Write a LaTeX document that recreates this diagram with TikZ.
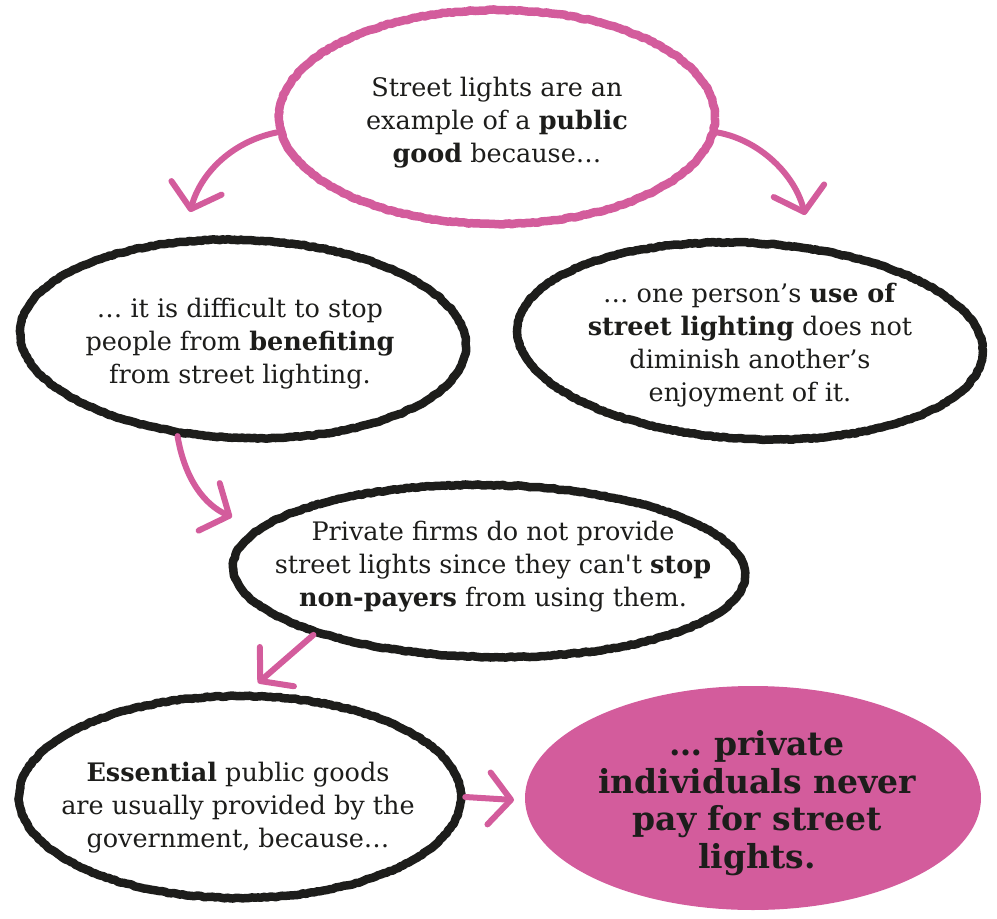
\documentclass[tikz,border=0pt]{standalone}
\usepackage{fontspec}
\setmainfont{DejaVu Serif}
\usetikzlibrary{shapes.geometric,arrows.meta,decorations.pathmorphing}
\definecolor{pinkc}{HTML}{D35C9C}
\definecolor{inkc}{HTML}{1D1D1B}
\begin{document}
\begin{tikzpicture}[x=1pt,y=-1pt,
  bubble/.style={ellipse, inner sep=0pt, draw=inkc, line width=8.5pt,
     decorate, decoration={random steps, segment length=3pt, amplitude=0.6pt},
     line join=round},
  pinkbubble/.style={bubble, draw=pinkc},
  endbubble/.style={ellipse, inner sep=0pt, fill=pinkc, draw=none},
  txt/.style={inner sep=0pt, text=inkc, align=center,
     font=\fontsize{25.5}{33}\selectfont},
  bigtxt/.style={inner sep=0pt, text=inkc, align=center,
     font=\fontsize{33}{37.5}\selectfont\bfseries},
  parrow/.style={draw=pinkc, line width=6pt, line cap=round, line join=round,
     -{Straight Barb[length=22pt,width=52pt,line cap=round,line join=round]}}
  ]
\pgfmathsetseed{7}
\useasboundingbox (0,0) rectangle (997,919);

\node[pinkbubble, minimum width=436pt, minimum height=214pt] (top) at (497,117) {};
\node[bubble, minimum width=446pt, minimum height=198pt, rotate=-2] (left) at (243,339) {};
\node[bubble, minimum width=466pt, minimum height=196pt, rotate=-3] (right) at (750,341) {};
\node[bubble, minimum width=512pt, minimum height=172pt, rotate=-1] (mid) at (489,571) {};
\node[bubble, minimum width=442pt, minimum height=202pt] (essential) at (240,797) {};
\node[endbubble, minimum width=456pt, minimum height=224pt] (final) at (753,798) {};

\node[txt] (topText) at (497,123)
  {Street lights are an\\ example of a \textbf{public}\\ \textbf{good} because\dots};
\node[txt] (leftText) at (240,344)
  {\dots\ it is difficult to stop\\ people from \textbf{benefiting}\\ from street lighting.};
\node[txt] (rightText) at (750,345)
  {\dots\ one person’s \textbf{use of}\\ \textbf{street lighting} does not\\ diminish another’s\\ enjoyment of it.};
\node[txt] (midText) at (493,567)
  {Private firms do not provide\\ street lights since they can\textquotesingle t \textbf{stop}\\ \textbf{non-payers} from using them.};
\node[txt] (essentialText) at (238,808)
  {\textbf{Essential} public goods\\ are usually provided by the\\ government, because\dots};
\node[bigtxt] (finalText) at (757,803)
  {\dots\ private\\ individuals never\\ pay for street\\ lights.};

\coordinate (e1) at (190,212);
\coordinate (e2) at (805,215);
\coordinate (e3) at (232,517);
\coordinate (e4) at (258,683);
\coordinate (e5) at (514,800);

\draw[parrow] (top.184) .. controls (230,142) and (200,175) .. (e1);
\draw[parrow] (top.-4) .. controls (760,140) and (795,175) .. (e2);
\draw[parrow] (left.-122) .. controls (185,480) and (205,505) .. (e3);
\draw[parrow] (mid.-159) -- (e4);
\draw[parrow] (essential.east) -- (e5);
\end{tikzpicture}
\end{document}
